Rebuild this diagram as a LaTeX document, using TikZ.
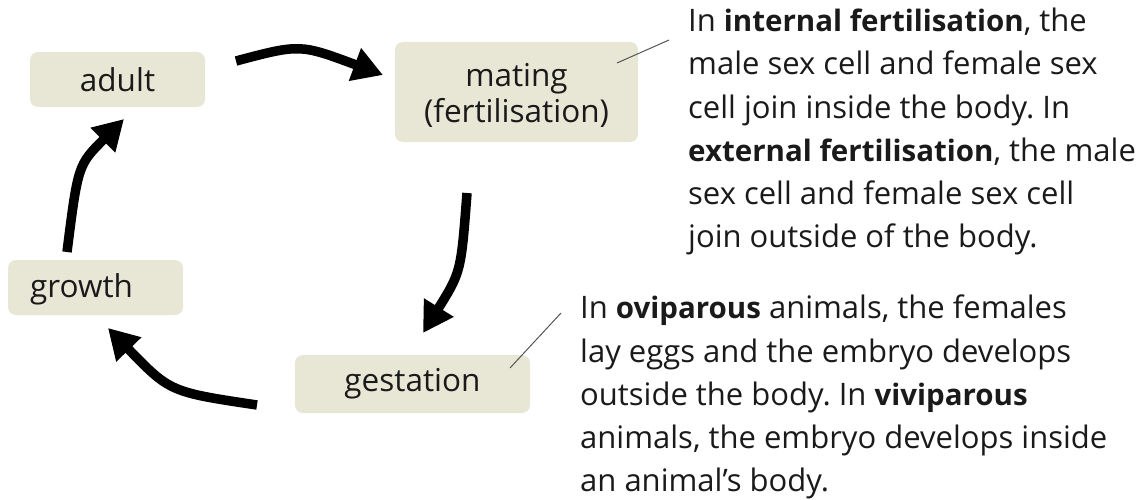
\documentclass[tikz,border=0pt]{standalone}
\usepackage{fontspec}
\setmainfont{Open Sans}
\usetikzlibrary{arrows.meta}
\definecolor{boxc}{HTML}{E8E7D6}
\definecolor{txt}{HTML}{1A1A1A}
\definecolor{lead}{HTML}{555555}
\frenchspacing
\newcommand\keyterm[1]{{\fontsize{29.5}{43.2}\selectfont\bfseries #1}}
\tikzset{
  stagebox/.style={fill=boxc, rounded corners=8pt, inner sep=0pt, text=txt,
    font=\fontsize{31.5}{36}\selectfont, align=center},
  cyclearrow/.style={line width=9.5pt, -{Triangle[length=30pt,width=33pt]}},
  leadline/.style={draw=lead, line width=1pt},
  para/.style={anchor=north west, inner sep=0pt, align=left, text=txt,
    font=\fontsize{31}{43.2}\selectfont}
}
\begin{document}
\begin{tikzpicture}[x=1pt,y=-1pt]
\useasboundingbox (0,0) rectangle (1142,500);
% boxes
\node[stagebox, minimum width=175pt, minimum height=55pt] (adult) at (117.5,79.5) {adult};
\node[stagebox, minimum width=243pt, minimum height=100pt] (mating) at (516.5,92) {};
\node[text=txt, font=\fontsize{31.5}{36}\selectfont, inner sep=0pt, align=center] (matingtxt) at (516.5,95) {mating\\(fertilisation)};
\node[stagebox, minimum width=175pt, minimum height=55pt] (growth) at (95.5,287.5) {};
\node[text=txt, font=\fontsize{31.5}{36}\selectfont, inner sep=0pt, anchor=west] (growthtxt) at (30,289) {growth};
\node[stagebox, minimum width=235pt, minimum height=58pt] (gestation) at (412.5,384) {gestation};
% arrow end points
\coordinate (a1s) at (236,61);
\coordinate (a1e) at (383,75);
\coordinate (a2s) at (467,193);
\coordinate (a2e) at (423,333);
\coordinate (a3s) at (257,405);
\coordinate (a3e) at (108,328);
\coordinate (a4s) at (67,252);
\coordinate (a4e) at (124,119);
\draw[cyclearrow] (a1s) .. controls (300,44) .. (a1e);
\draw[cyclearrow] (a2s) .. controls (461,272) .. (a2e);
\draw[cyclearrow] (a3s) .. controls (170,392) .. (a3e);
\draw[cyclearrow] (a4s) .. controls (78,165) .. (a4e);
% texts
\node[para] (t1) at (688,8) {In \keyterm{internal fertilisation}, the\\
male sex cell and female sex\\
cell join inside the body. In\\
\keyterm{external fertilisation}, the male\\
sex cell and female sex cell\\
join outside of the body.};
\node[para] (t2) at (580,295) {In \keyterm{oviparous} animals, the females\\
lay eggs and the embryo develops\\
outside the body. In \keyterm{viviparous}\\
animals, the embryo develops inside\\
an animal’s body.};
% lead lines
\coordinate (l1a) at (617,63);
\coordinate (l1b) at (669,40);
\coordinate (l2a) at (510,368);
\coordinate (l2b) at (561,313);
\draw[leadline] (l1a) -- (l1b);
\draw[leadline] (l2a) -- (l2b);
\end{tikzpicture}
\end{document}
